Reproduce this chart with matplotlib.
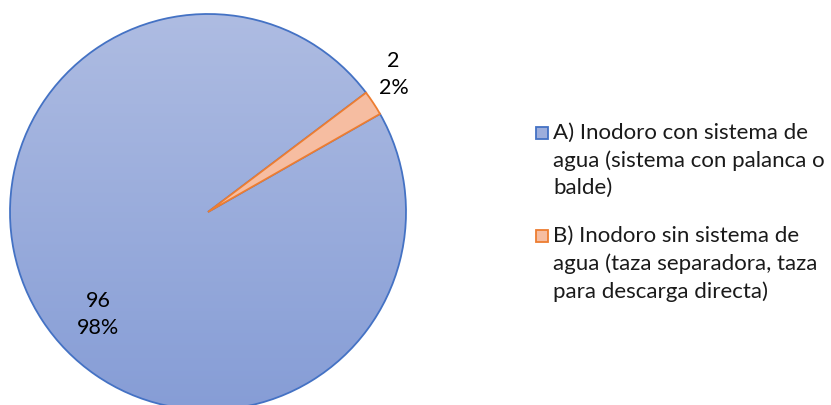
import numpy as np
import matplotlib
matplotlib.use("Agg")
from matplotlib import pyplot as plt
from matplotlib.colors import LinearSegmentedColormap
from matplotlib.patches import Rectangle

# ==============================================
# Data
# ==============================================
categories = [
    "A) Inodoro con sistema de\nagua (sistema con palanca o\nbalde)",
    "B) Inodoro sin sistema de\nagua (taza separadora, taza\npara descarga directa)",
]
values = [96, 2]

# ==============================================
# Style
# ==============================================
plt.rcParams['font.family'] = ['Lato', 'DejaVu Sans']
edge_colors = ["#4472C4", "#ED7D31"]
fill_colors = ["#9DAEDC", "#F6BDA1"]
grad_top, grad_bottom = "#AEBCE2", "#869DD6"
start_angle = 29.7
# label position per slice: (angle in degrees, distance from centre in radii)
label_pos = [(223.0, 0.76), (36.5, 1.165)]

W, H = 831, 405
fig = plt.figure(figsize=(W / 100, H / 100), dpi=100)
# pie centre at (208, 212) px, radius 198 px
ax = fig.add_axes([10 / W, -5 / H, 396 / W, 396 / H])
ax.axis("off")

wedges, _ = ax.pie(
    values,
    startangle=start_angle,
    counterclock=False,
    radius=1,
    colors=fill_colors,
    wedgeprops=dict(linewidth=1.3),
    frame=False,
)
ax.set_xlim(-1, 1)
ax.set_ylim(-1, 1)
ax.set_aspect("equal")
for w, ec in zip(wedges, edge_colors):
    w.set_edgecolor(ec)
    w.set_clip_on(False)

# vertical gradient on the big slice
cmap = LinearSegmentedColormap.from_list("blue_grad", [grad_top, grad_bottom])
grad = np.linspace(0, 1, 256).reshape(-1, 1)
im = ax.imshow(grad, cmap=cmap, extent=(-1, 1, -1, 1), origin="upper",
               aspect="auto", zorder=0)
im.set_clip_path(wedges[0])
wedges[0].set_facecolor("none")
wedges[0].set_zorder(2)
wedges[1].set_zorder(3)

total = sum(values)
for v, (ang, dist) in zip(values, label_pos):
    a = np.deg2rad(ang)
    ax.text(dist * np.cos(a), dist * np.sin(a), f"{v}\n{v / total:.0%}",
            ha="center", va="center", fontsize=15.5, linespacing=1.45,
            color="black", zorder=5, clip_on=False)

# ==============================================
# Legend (drawn by hand, Excel style)
# ==============================================
box_x, box_size = 536, 12
box_tops = [127, 230]
text_x = 553
text_tops = [123, 226]
for lab, fc, ec, bt, tt in zip(categories, fill_colors, edge_colors, box_tops, text_tops):
    fig.patches.append(Rectangle((box_x / W, 1 - (bt + box_size) / H),
                                 box_size / W, box_size / H,
                                 transform=fig.transFigure, facecolor=fc,
                                 edgecolor=ec, linewidth=1.3))
    fig.text(text_x / W, 1 - tt / H, lab, ha="left", va="top",
             fontsize=16, linespacing=1.45, color="#1a1a1a")

fig.savefig("out.png", dpi=100)
